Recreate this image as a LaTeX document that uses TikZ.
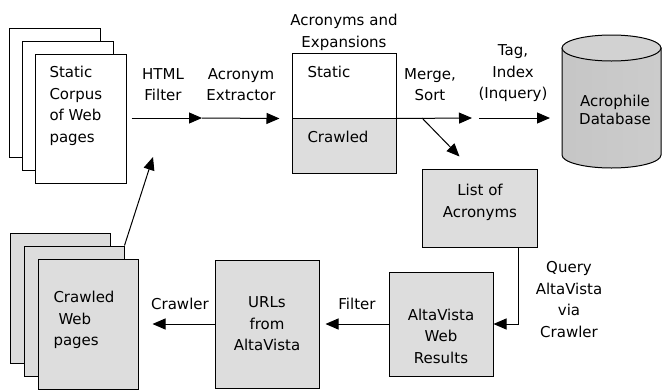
\documentclass[tikz,border=0pt]{standalone}
\usepackage{fontspec}
\setmainfont{DejaVu Sans}
\usetikzlibrary{arrows.meta,positioning}

\begin{document}
\begin{tikzpicture}[->,>={Triangle[length=13pt,width=11pt]},x=1pt,y=1pt,line width=1pt,
                every node/.style={font=\fontsize{15}{21.5}\selectfont},
                p node/.style={draw,fill=white,minimum width=91pt,minimum height=129pt,inner sep=0pt},
                q node/.style={draw,fill=gray!27,minimum width=100pt,minimum height=130pt,inner sep=0pt},
                g node/.style={draw,fill=gray!27,align=center,inner sep=0pt},
                t node/.style={align=center,inner sep=0pt},
                l node/.style={align=left,inner sep=0pt,anchor=north west}]

    \useasboundingbox (0,0) rectangle (662,-389);

    % static corpus
    \node[p node] (s3) at (54.5,-92.5) {};
    \node[p node] (s2) at (67.5,-105.5) {};
    \node[p node] (s1) at (80.5,-118.5) {};
    \node[l node] (stxt) at (49,-66) {Static\\Corpus\\of Web\\pages};

    % crawled pages
    \node[q node] (c3) at (60,-298) {};
    \node[q node] (c2) at (74,-311) {};
    \node[q node] (c1) at (88,-324) {};
    \node[l node] (ctxt) at (53,-291) {Crawled\\\hspace*{5pt}Web\\pages};

    % acronyms and expansions
    \node[t node] (acx) at (344,-32.5) {Acronyms and\\Expansions};
    \node[draw,fill=white,minimum width=104pt,minimum height=65pt,inner sep=0pt] (st) at (344,-85.5) {};
    \node[g node,minimum width=104pt,minimum height=55pt] (cr) at (344,-145.5) {};
    \node[l node] (sttxt) at (307,-66) {Static};
    \node[l node] (crtxt) at (307,-130.5) {Crawled};

    % database
    \shade[-,draw,left color=gray!45,middle color=gray!5,right color=gray!40]
        (562,-48) -- (562,-155) arc[start angle=180,end angle=360,x radius=49.5,y radius=13]
        -- (661,-48) -- cycle;
    \draw[-,fill=gray!35] (611.5,-48) ellipse[x radius=49.5,y radius=13];
    \node[t node,font=\fontsize{15}{18.5}\selectfont] (db) at (615,-110) {Acrophile\\Database};
    \coordinate (dbl) at (562,-118);

    % boxes
    \node[g node,minimum width=115pt,minimum height=78pt] (lst) at (479.5,-208) {};
    \node[t node] (lsttxt) at (480,-202.5) {List of\\Acronyms};
    \node[g node,minimum width=104pt,minimum height=104pt] (av) at (441,-324) {};
    \node[t node] (avtxt) at (441,-336) {AltaVista\\Web\\Results};
    \node[g node,minimum width=104pt,minimum height=128pt] (url) at (267,-324) {URLs\\from\\AltaVista};

    % labels
    \node[t node] (html) at (163,-84.5) {HTML\\Filter};
    \node[t node] (ext) at (241,-84.5) {Acronym\\Extractor};
    \node[t node] (mrg) at (430,-84.5) {Merge,\\Sort};
    \node[t node] (tag) at (513,-73.5) {Tag,\\Index\\(Inquery)};
    \node[t node] (qry) at (569,-299.5) {Query\\AltaVista\\via\\Crawler};
    \node[t node] (flt) at (357,-304) {Filter};
    \node[t node] (crw) at (180,-304) {Crawler};

    \coordinate (m1) at (202,-118);
    \coordinate (m2) at (472,-118);
    \coordinate (m3) at (422,-118);
    \coordinate (h0) at (153,-157);

    \draw[shorten <=5pt] (s1.east |- m1) -- (m1);
    \draw (m1) -- ([xshift=-12pt]st.south west);
    \draw (st.south east) -- (m2);
    \draw (m3) -- ([xshift=38pt,yshift=12pt]lst.north west);
    \draw[shorten <=7pt,shorten >=12pt] (m2) -- (dbl);
    \draw ([xshift=-19pt]lst.south east) |- (av.east);
    \draw[shorten >=6pt] (av.west) -- (url.east);
    \draw[shorten >=14pt] (url.west) -- (c1.east);
    \draw (c2.north east) -- (h0);

\end{tikzpicture}
\end{document}
